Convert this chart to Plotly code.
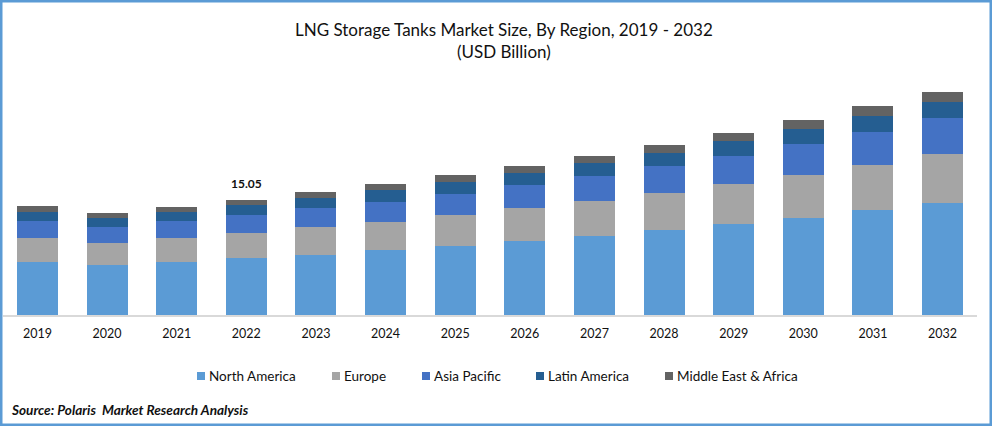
import plotly.graph_objects as go

years = ['2019', '2020', '2021', '2022', '2023', '2024', '2025', '2026', '2027', '2028', '2029', '2030', '2031', '2032']
north_america = [6.94, 6.54, 6.94, 7.46, 7.85, 8.51, 9.03, 9.69, 10.34, 11.13, 11.91, 12.70, 13.74, 14.66]
europe = [3.14, 2.88, 3.14, 3.27, 3.66, 3.66, 4.06, 4.32, 4.58, 4.84, 5.24, 5.63, 5.89, 6.41]
asia_pacific = [2.23, 2.09, 2.23, 2.36, 2.49, 2.62, 2.75, 3.01, 3.27, 3.53, 3.66, 4.06, 4.32, 4.71]
latin_america = [1.22, 1.18, 1.18, 1.31, 1.31, 1.57, 1.57, 1.57, 1.70, 1.70, 1.96, 1.96, 2.09, 2.09]
middle_east = [0.75, 0.65, 0.65, 0.65, 0.79, 0.79, 0.92, 0.92, 0.92, 1.05, 1.05, 1.18, 1.31, 1.31]

names = ['North America', 'Europe', 'Asia Pacific', 'Latin America', 'Middle East & Africa']
colors = ['#5B9BD5', '#A5A5A5', '#4472C4', '#255E91', '#636363']
series = [north_america, europe, asia_pacific, latin_america, middle_east]

W, H = 992, 426
FONT = 'Lato'
TEXT = '#111111'

fig = go.Figure()
for name, color, vals in zip(names, colors, series):
    fig.add_trace(go.Bar(x=years, y=vals, name=name, marker=dict(color=color, line_width=0), showlegend=False))

# hand placed legend, the built in one can't get the small swatches and tight gaps
legend_x = [197, 332, 422, 536, 665]
shapes = [dict(type='rect', xref='paper', yref='paper', x0=0, x1=1, y0=0, y1=1,
               line=dict(color='#5B9BD5', width=5), fillcolor='rgba(0,0,0,0)')]
annotations = []
for name, color, lx in zip(names, colors, legend_x):
    shapes.append(dict(type='rect', xref='paper', yref='paper', line_width=0, fillcolor=color,
                       x0=lx / W, x1=(lx + 8) / W, y0=1 - 380 / H, y1=1 - 372 / H))
    annotations.append(dict(text=name, xref='paper', yref='paper', x=(lx + 10) / W, y=1 - 376 / H,
                            xanchor='left', yanchor='middle', showarrow=False,
                            font=dict(family=FONT, size=13.5, color=TEXT)))

annotations.append(dict(text='LNG Storage Tanks Market Size, By Region, 2019 - 2032<br>(USD Billion)',
                        xref='paper', yref='paper', x=504 / W, y=1 - 40 / H, xanchor='center', yanchor='middle',
                        showarrow=False, font=dict(family=FONT, size=17, color=TEXT)))
annotations.append(dict(text='<b><i>Source: Polaris  Market Research Analysis</i></b>', xref='paper', yref='paper',
                        x=9 / W, y=1 - 410 / H, xanchor='left', yanchor='middle', showarrow=False,
                        font=dict(family=FONT, size=13.6, color=TEXT)))

# only 2022 gets a total label, category axis wants the index here not the string
i_2022 = years.index('2022')
total_2022 = sum(s[i_2022] for s in series)
annotations.append(dict(text='<b>%.2f</b>' % total_2022, x=i_2022, y=total_2022, yanchor='bottom', yshift=7,
                        showarrow=False, font=dict(family=FONT, size=12, color=TEXT)))

fig.update_layout(
    width=W, height=H,
    margin=dict(l=0, r=0, t=0, b=0),
    paper_bgcolor='white', plot_bgcolor='white',
    barmode='stack', bargap=0.41,
    shapes=shapes, annotations=annotations,
    font=dict(family=FONT, color=TEXT),
)
fig.update_xaxes(domain=[2.7 / W, 977.3 / W], type='category', showline=True, linecolor='#D9D9D9', linewidth=1.5,
                 ticks='', ticklabelstandoff=6, tickfont=dict(family=FONT, size=12.5, color=TEXT), showgrid=False)
fig.update_yaxes(domain=[1 - 315 / H, 1 - 60 / H], range=[0, 33.38], visible=False)

# page has a default 8px body margin that pushes the figure off
fig.write_html("out.html", config=dict(displayModeBar=False),
               post_script="document.body.style.margin='0';document.documentElement.style.overflow='hidden';")
